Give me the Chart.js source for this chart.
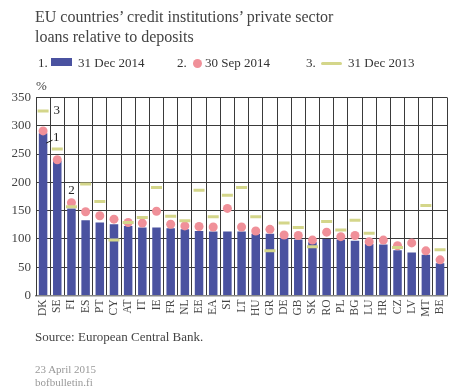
<!DOCTYPE html>
<html>
<head>
<meta charset="utf-8">
<script src="https://cdn.jsdelivr.net/npm/chart.js@4"></script>
<style>
  body { margin: 0; background: #fff; font-family: "Liberation Serif", "Times New Roman", serif; }
  #wrap { position: relative; width: 458px; height: 389px; }
  #graph { position: absolute; left: 0; top: 0; }
  .txt { position: absolute; white-space: nowrap; color: #444; }
  #title { left: 35px; top: 7px; font-size: 16px; line-height: 19.5px; color: #444; }
  .leg { top: 55px; font-size: 13px; line-height: 16px; color: #333; }
  .sw { position: absolute; }
  #source { left: 35px; top: 329px; font-size: 13px; color: #444; }
  #date { left: 35px; top: 363px; font-size: 11px; line-height: 13px; color: #999; }
</style>
</head>
<body>
<div id="wrap">
  <canvas id="graph" width="458" height="389"></canvas>
  <div id="title" class="txt">EU countries’ credit institutions’ private sector<br>loans relative to deposits</div>
  <div class="txt leg" style="left:38px">1.</div>
  <div class="sw" style="left:51px;top:58px;width:21px;height:8px;background:#4a52a0"></div>
  <div class="txt leg" style="left:78px">31 Dec 2014</div>
  <div class="txt leg" style="left:177px">2.</div>
  <div class="sw" style="left:192.5px;top:58.5px;width:9px;height:9px;border-radius:50%;background:#f09099"></div>
  <div class="txt leg" style="left:205px">30 Sep 2014</div>
  <div class="txt leg" style="left:306px">3.</div>
  <div class="sw" style="left:320.5px;top:61.5px;width:21px;height:3px;border-radius:2px;background:#d4d68a"></div>
  <div class="txt leg" style="left:348px">31 Dec 2013</div>
  <div class="txt" style="left:36px;top:78px;font-size:13px">%</div>
  <div id="source" class="txt">Source: European Central Bank.</div>
  <div id="date" class="txt">23 April 2015<br>bofbulletin.fi</div>
</div>
<script>
const countries = ['DK','SE','FI','ES','PT','CY','AT','IT','IE','FR','NL','EE','EA','SI','LT',
                   'HU','GR','DE','GB','SK','RO','PL','BG','LU','HR','CZ','LV','MT','BE']
const dec2014 = [287,238,154,133,129,126,123,120,120,119,117,114,113,113,113,
                 109,109,102,99,94,100,99,97,91,90,80,76,72,57]
const sep2014 = [291,240,164,148,141,135,129,128,149,126,123,122,121,154,121,
                 114,117,107,106,98,112,104,106,95,98,88,93,79,63]
const dec2013 = [326,259,157,197,166,98,129,138,191,140,132,186,139,177,191,
                 139,79,128,120,86,131,116,133,110,null,85,null,159,81]
const yTicks = [0,50,100,150,200,250,300,350]

const serif = '"Liberation Serif", "Times New Roman", serif'

// numbers 1-3 next to the first bars, tying the marks to the legend
const seriesNumbers = {
    id: 'seriesNumbers',
    afterDatasetsDraw(chart){
        const x = chart.scales.x, y = chart.scales.y
        const ctx = chart.ctx
        ctx.save()
        ctx.font = '13px ' + serif
        ctx.fillStyle = '#222'
        ctx.textBaseline = 'middle'
        const dk = x.getPixelForValue(0)
        ctx.textAlign = 'left'
        ctx.fillText('3', dk + 10.5, y.getPixelForValue(dec2013[0]))
        ctx.fillText('1', dk + 10, y.getPixelForValue(dec2014[0]) + 4)
        ctx.strokeStyle = '#222'
        ctx.lineWidth = 1
        ctx.beginPath()
        ctx.moveTo(dk + 3, y.getPixelForValue(dec2014[0]) + 10)
        ctx.lineTo(dk + 9.5, y.getPixelForValue(dec2014[0]) + 7)
        ctx.stroke()
        ctx.textAlign = 'center'
        ctx.fillText('2', x.getPixelForValue(2), y.getPixelForValue(sep2014[2]) - 12)
        ctx.restore()
    }
}

new Chart(document.querySelector('#graph'), {
    type: 'bar',
    data: {
        labels: countries,
        datasets: [
            {
                label: '31 Dec 2014',
                data: dec2014,
                backgroundColor: '#4a52a0',
                barPercentage: 0.6,
                categoryPercentage: 1,
                order: 3
            },
            {
                type: 'line',
                label: '30 Sep 2014',
                data: sep2014,
                showLine: false,
                pointStyle: 'circle',
                pointRadius: 4.5,
                pointBackgroundColor: '#f09099',
                pointBorderWidth: 0,
                order: 2
            },
            {
                type: 'line',
                label: '31 Dec 2013',
                data: dec2013,
                showLine: false,
                pointStyle: 'line',
                pointRadius: 5.5,
                pointBorderColor: '#d4d68a',
                pointBorderWidth: 3,
                order: 1
            }
        ]
    },
    options: {
        responsive: false,
        animation: false,
        devicePixelRatio: 1,
        layout: { padding: { top: 97.5, left: 0, right: 0, bottom: 0 } },
        plugins: { legend: { display: false }, tooltip: { enabled: false } },
        scales: {
            x: {
                offset: true,
                grid: { offset: true, color: '#3a3a3a', drawTicks: false },
                border: { color: '#888', width: 1.5 },
                ticks: {
                    autoSkip: false, minRotation: 90, maxRotation: 90, padding: 4,
                    color: '#444', font: { family: serif, size: 11.5 }
                },
                afterFit(scale){ scale.height = 93.5 }
            },
            y: {
                min: 0, max: 350,
                afterBuildTicks(scale){ scale.ticks = yTicks.map(v => ({ value: v })) },
                grid: { color: '#3a3a3a', drawTicks: false },
                border: { color: '#3a3a3a' },
                ticks: { padding: 5, color: '#444', font: { family: serif, size: 13 } },
                afterFit(scale){ scale.width = 36 }
            }
        }
    },
    plugins: [seriesNumbers]
})
</script>
</body>
</html>
